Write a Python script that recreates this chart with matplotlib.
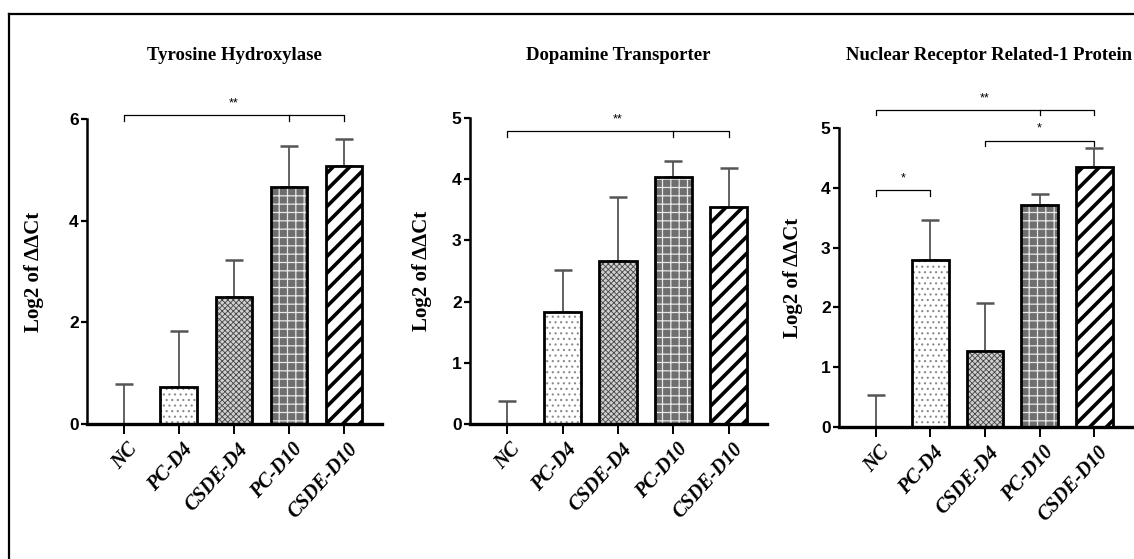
import matplotlib
matplotlib.use("Agg")
import matplotlib.pyplot as plt
from matplotlib.lines import Line2D
from matplotlib.transforms import ScaledTranslation
import numpy as np

# ---- data (log2 of ddCt, mean and upper SEM) ----
genes = ["Tyrosine Hydroxylase", "Dopamine Transporter", "Nuclear Receptor Related-1 Protein"]
groups = ["NC", "PC-D4", "CSDE-D4", "PC-D10", "CSDE-D10"]

th_mean = [0.0, 0.72, 2.50, 4.67, 5.07]
th_sem = [0.78, 1.11, 0.72, 0.80, 0.53]
dat_mean = [0.0, 1.83, 2.66, 4.04, 3.55]
dat_sem = [0.37, 0.68, 1.05, 0.26, 0.63]
nurr_mean = [0.0, 2.80, 1.27, 3.72, 4.35]
nurr_sem = [0.54, 0.66, 0.80, 0.18, 0.31]

# (from group, to group, bracket height, stars, extra tick at group)
th_sig = [(0, 4, 6.07, "**", 3)]
dat_sig = [(0, 4, 4.78, "**", 3)]
nurr_sig = [(0, 1, 3.96, "*", None), (2, 4, 4.79, "*", None), (0, 4, 5.30, "**", 3)]

y_max = [6, 5, 5]
y_step = [2, 1, 1]

# bar styles: (face, hatch, hatch colour, hatch lw)
styles = [
    ("white", "", "black", 1.0),
    ("white", "...", "#8a8a8a", 0.8),
    ("#d0d0d0", "xxxxxx", "#444444", 0.6),
    ("#6e6e6e", "++", "#e8e8e8", 0.9),
    ("white", "//", "black", 2.6),
]

SERIF = "Liberation Serif"
SANS = "Liberation Sans"

W, H = 1134, 559
fig = plt.figure(figsize=(W / 100, H / 100), dpi=100)

# axes rectangles in pixels: left, zero line, right, top
rects = [(87, 424, 382, 119), (470, 424, 767, 118), (839, 427, 1132, 128)]
ylab_x = [-0.18, -0.16, -0.158]

panels = [
    (th_mean, th_sem, th_sig),
    (dat_mean, dat_sem, dat_sig),
    (nurr_mean, nurr_sem, nurr_sig),
]

x = np.arange(len(groups))
for k, (mean, sem, sig) in enumerate(panels):
    l, b, r, t = rects[k]
    ax = fig.add_axes([l / W, (H - b) / H, (r - l) / W, (b - t) / H])
    ax.set_xlim(-0.67, 4.69)
    ax.set_ylim(0, y_max[k])

    for i in range(len(groups)):
        face, hatch, hcol, hlw = styles[i]
        with plt.rc_context({"hatch.linewidth": hlw}):
            p = ax.bar(x[i], mean[i], width=0.67, color=face, hatch=hatch,
                       edgecolor=hcol, linewidth=0, zorder=2)
        for patch in p:
            if hasattr(patch, "set_hatch_linewidth"):
                patch.set_hatch_linewidth(hlw)
        ax.bar(x[i], mean[i], width=0.67, fill=False, edgecolor="black",
               linewidth=2.0, zorder=3)

    ax.errorbar(x, mean, yerr=[np.zeros(len(sem)), sem], fmt="none",
                ecolor="#555555", elinewidth=1.3, capsize=6.5, capthick=1.8,
                zorder=1)

    for i0, i1, yb, stars, mid in sig:
        d = 0.018 * y_max[k]
        ax.plot([x[i0], x[i0], x[i1], x[i1]], [yb - d, yb, yb, yb - d],
                color="black", lw=0.9, clip_on=False)
        if mid is not None:
            ax.plot([x[mid], x[mid]], [yb, yb - d], color="black", lw=0.9,
                    clip_on=False)
        ax.text((x[i0] + x[i1]) / 2, yb + 0.02 * y_max[k], stars,
                ha="center", va="bottom", fontsize=9, family=SANS,
                clip_on=False)

    for s in ["top", "right"]:
        ax.spines[s].set_visible(False)
    ax.spines["left"].set_linewidth(1.8)
    ax.spines["bottom"].set_linewidth(2.4)
    ax.set_yticks(np.arange(0, y_max[k] + 0.01, y_step[k]))
    ax.set_yticklabels([str(v) for v in range(0, y_max[k] + 1, y_step[k])],
                       family=SANS, fontweight="bold", fontsize=12.5)
    ax.tick_params(axis="y", length=4, width=1.6, pad=2)
    ax.set_xticks(x)
    ax.set_xticklabels(groups, rotation=48, ha="right", va="top",
                       rotation_mode="anchor", family=SERIF,
                       fontweight="bold", fontstyle="italic", fontsize=14.5)
    ax.tick_params(axis="x", length=7, width=1.4, pad=4)
    for lab in ax.get_xticklabels():
        lab.set_transform(lab.get_transform()
                          + ScaledTranslation(0.03, 0, fig.dpi_scale_trans))
    ax.patch.set_alpha(0)

    ax.text(ylab_x[k], 0.5, "Log2 of ΔΔCt", transform=ax.transAxes,
            rotation=90, ha="center", va="center", family=SERIF,
            fontweight="bold", fontsize=15)
    fig.text((l + r) / 2 / W + (0.003 if k == 2 else 0), 1 - 55 / H, genes[k],
             ha="center", va="center", family=SERIF, fontweight="bold",
             fontsize=13.5)

# outer frame (only left and top edges are visible in the original)
fig.add_artist(Line2D([9 / W, 9 / W], [0, 1 - 14 / H], color="black", lw=1.6))
fig.add_artist(Line2D([9 / W, 1], [1 - 14 / H, 1 - 14 / H], color="black", lw=1.6))

fig.savefig("out.png", dpi=100)
